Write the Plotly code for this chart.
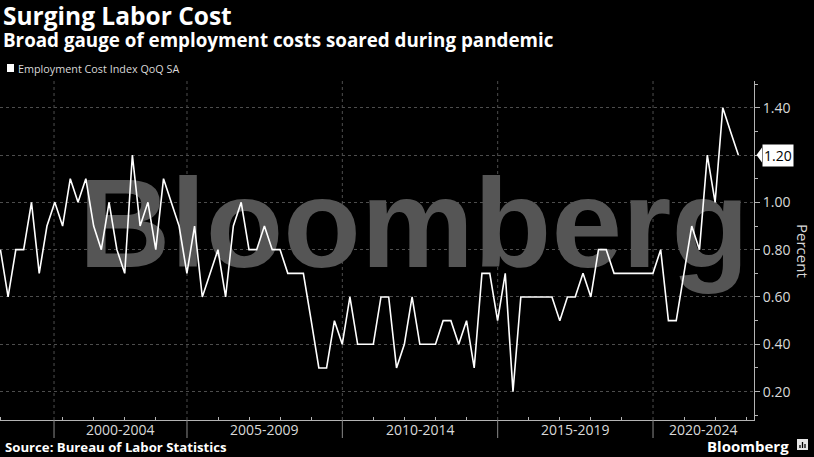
import plotly.graph_objects as go
import datetime as dt

# ---------------- data ----------------
title_text = "Surging Labor Cost"
subtitle_text = "Broad gauge of employment costs soared during pandemic"
series_name = "Employment Cost Index QoQ SA"
source_text = "Source: Bureau of Labor Statistics"
axis_title = "Percent"

first_year, first_q = 1998, 4          # first observation: 1998 Q4
eci_qoq = [
    0.8, 0.6, 0.8, 0.8, 1.0, 0.7, 0.9, 1.0, 0.9, 1.1,
    1.0, 1.1, 0.9, 0.8, 1.0, 0.8, 0.7, 1.2, 0.9, 1.0,
    0.8, 1.1, 1.0, 0.9, 0.7, 0.9, 0.6, 0.7, 0.8, 0.6,
    0.9, 1.0, 0.8, 0.8, 0.9, 0.8, 0.8, 0.7, 0.7, 0.7,
    0.5, 0.3, 0.3, 0.5, 0.4, 0.6, 0.4, 0.4, 0.4, 0.6,
    0.6, 0.3, 0.4, 0.6, 0.4, 0.4, 0.4, 0.5, 0.5, 0.4,
    0.5, 0.3, 0.7, 0.7, 0.5, 0.7, 0.2, 0.6, 0.6, 0.6,
    0.6, 0.6, 0.5, 0.6, 0.6, 0.7, 0.6, 0.8, 0.8, 0.7,
    0.7, 0.7, 0.7, 0.7, 0.7, 0.8, 0.5, 0.5, 0.7, 0.9,
    0.8, 1.2, 1.0, 1.4, 1.3, 1.2,
]
band_labels = ["2000-2004", "2005-2009", "2010-2014", "2015-2019", "2020-2024"]
band_starts = ["2000-09-21", "2005-01-01", "2010-01-01", "2015-01-01", "2020-01-01"]
year_ticks = [f"{y}-01-01" for y in range(1999, 2024) if y % 5 != 0]
y_ticks = [0.2, 0.4, 0.6, 0.8, 1.0, 1.2, 1.4]
y_minor = [0.1, 0.3, 0.5, 0.7, 0.9, 1.1, 1.3, 1.5]
x_range = ["1998-12-26", "2023-04-02"]
y_range = [0.08, 1.513]
last_label = "1.20"

# quarter-end dates
q_end = {1: (3, 31), 2: (6, 30), 3: (9, 30), 4: (12, 31)}
dates = []
y, q = first_year, first_q
for _ in eci_qoq:
    m, d = q_end[q]
    dates.append(f"{y}-{m:02d}-{d:02d}")
    q += 1
    if q > 4:
        q, y = 1, y + 1

# tick labels (the last value's tick is covered by its highlighted label)
y_ticktext = ["" if abs(v - eci_qoq[-1]) < 1e-9 else f"{v:.2f}" for v in y_ticks]

# ---------------- layout helpers ----------------
W, H = 814, 457
ML, MR, MT, MB = 0, 60, 81, 37
PWID = W - ML - MR
PHGT = H - MT - MB


def pxx(px):
    return (px - ML) / PWID


def pxy(py):
    return (H - MB - py) / PHGT


FONT = "Open Sans"
WHITE = "#ffffff"
LIGHT = "#d9d9d9"
GRID = "#4d4d4d"

fig = go.Figure()

# watermark (drawn first so the line sits on top)
fig.add_trace(go.Scatter(
    x=["2012-04-22"], y=[0.86], mode="text", text=["Bloomberg"],
    textposition="middle center",
    textfont=dict(family="Liberation Sans", size=127, color="#555555", weight="bold"),
    hoverinfo="skip", showlegend=False, cliponaxis=False,
))

fig.add_trace(go.Scatter(
    x=dates, y=eci_qoq, mode="lines", name=series_name,
    line=dict(color=WHITE, width=1.6), showlegend=False,
))

shapes = []
# vertical dotted gridlines + long separator ticks
for s in band_starts:
    shapes.append(dict(type="line", xref="x", yref="paper", x0=s, x1=s, y0=0, y1=1,
                       line=dict(color=GRID, width=1, dash="dot"), layer="below"))
    shapes.append(dict(type="line", xref="x", yref="paper", x0=s, x1=s, y0=pxy(438), y1=0,
                       line=dict(color="#8a8a8a", width=1)))

# legend square
shapes.append(dict(type="rect", xref="paper", yref="paper",
                   x0=pxx(7), x1=pxx(14), y0=pxy(72), y1=pxy(64),
                   fillcolor=WHITE, line=dict(width=0)))

# last value pointer
y_last_px = MT + (y_range[1] - eci_qoq[-1]) / (y_range[1] - y_range[0]) * PHGT
shapes.append(dict(type="path", xref="paper", yref="paper",
                   path=f"M {pxx(756.5)},{pxy(y_last_px)} L {pxx(762)},{pxy(y_last_px - 7.5)} "
                        f"L {pxx(762)},{pxy(y_last_px + 7.5)} Z",
                   fillcolor=WHITE, line=dict(width=0)))

# Bloomberg logo icon
shapes.append(dict(type="rect", xref="paper", yref="paper",
                   x0=pxx(797), x1=pxx(808), y0=pxy(450), y1=pxy(439),
                   fillcolor="#e6e6e6", line=dict(width=0)))
for bx, top in [(800, 445), (802.5, 442), (805, 444)]:
    shapes.append(dict(type="line", xref="paper", yref="paper",
                       x0=pxx(bx), x1=pxx(bx), y0=pxy(448), y1=pxy(top),
                       line=dict(color="#000000", width=1.3)))

annotations = [
    dict(text=f"<b>{title_text}</b>", x=pxx(1), y=pxy(15.5), xref="paper", yref="paper",
         xanchor="left", yanchor="middle", showarrow=False,
         font=dict(family=FONT, size=24.5, color=WHITE)),
    dict(text=f"<b>{subtitle_text}</b>", x=pxx(1), y=pxy(39.5), xref="paper", yref="paper",
         xanchor="left", yanchor="middle", showarrow=False,
         font=dict(family=FONT, size=18.8, color=WHITE)),
    dict(text=series_name, x=pxx(16), y=pxy(68), xref="paper", yref="paper",
         xanchor="left", yanchor="middle", showarrow=False,
         font=dict(family=FONT, size=10.8, color=LIGHT)),
    dict(text=f"<b>{source_text}</b>", x=pxx(3), y=pxy(447), xref="paper", yref="paper",
         xanchor="left", yanchor="middle", showarrow=False,
         font=dict(family=FONT, size=13.2, color=WHITE)),
    dict(text="<b>Bloomberg</b>", x=pxx(791), y=pxy(445.5), xref="paper", yref="paper",
         xanchor="right", yanchor="middle", showarrow=False,
         font=dict(family=FONT, size=15, color=WHITE)),
    dict(text=axis_title, x=pxx(803), y=pxy(251), xref="paper", yref="paper",
         xanchor="center", yanchor="middle", showarrow=False, textangle=90,
         font=dict(family=FONT, size=15, color=LIGHT)),
    dict(text=last_label, x=pxx(762), y=eci_qoq[-1], xref="paper", yref="y",
         xanchor="left", yanchor="middle", showarrow=False, bgcolor=WHITE,
         borderpad=1, font=dict(family=FONT, size=14, color="#000000")),
]

# band labels centred on the visible part of each band
def to_date(s):
    return dt.date.fromisoformat(s)

r0, r1 = to_date(x_range[0]), to_date(x_range[1])
for i, lab in enumerate(band_labels):
    a = max(to_date(band_starts[i]), r0)
    b = to_date(band_starts[i + 1]) if i + 1 < len(band_starts) else r1
    b = min(b, r1)
    mid = a + (b - a) / 2
    annotations.append(dict(text=lab, x=mid.isoformat(), y=pxy(429), xref="x", yref="paper",
                            xanchor="center", yanchor="middle", showarrow=False,
                            font=dict(family=FONT, size=14, color=LIGHT)))

fig.update_layout(
    width=W, height=H,
    margin=dict(l=ML, r=MR, t=MT, b=MB),
    paper_bgcolor="#000000", plot_bgcolor="#000000",
    shapes=shapes, annotations=annotations,
    showlegend=False,
    xaxis=dict(
        type="date", range=x_range, showgrid=False, zeroline=False,
        showline=True, linecolor="#b3b3b3", linewidth=1,
        tickvals=[], showticklabels=False,
        minor=dict(tickvals=year_ticks, ticks="inside", ticklen=3,
                   tickcolor="#b3b3b3", showgrid=False),
    ),
    yaxis=dict(
        side="right", range=y_range, tickvals=y_ticks, ticktext=y_ticktext,
        showgrid=True, gridcolor=GRID, griddash="dot", gridwidth=1,
        zeroline=False, showline=True, linecolor="#b3b3b3", linewidth=1,
        ticks="outside", ticklen=5, tickcolor="#b3b3b3",
        tickfont=dict(family=FONT, size=14, color=LIGHT),
        minor=dict(tickvals=y_minor, ticks="outside", ticklen=3,
                   tickcolor="#b3b3b3", showgrid=False),
    ),
)

fig.write_html("out.html")
